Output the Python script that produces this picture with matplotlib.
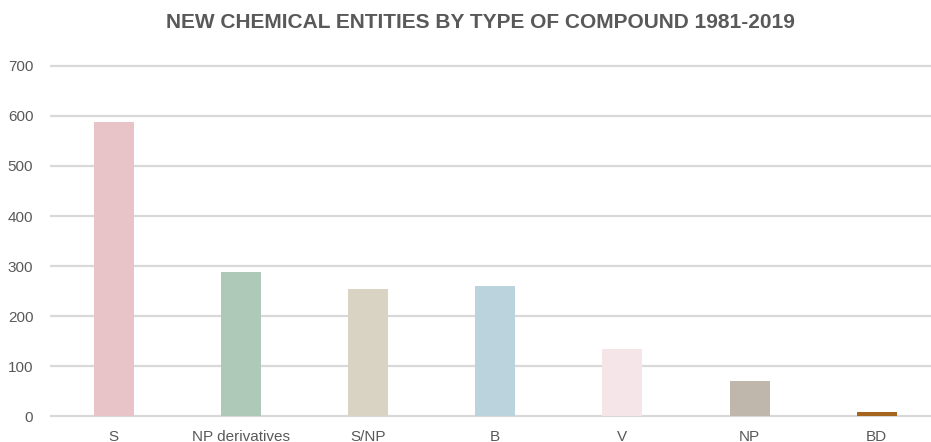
import matplotlib
matplotlib.use("Agg")
import matplotlib.pyplot as plt

plt.rcParams['font.family'] = ['Liberation Sans', 'DejaVu Sans']

# compound types and NCE counts (1981-2019)
categories = ['S', 'NP derivatives', 'S/NP', 'B', 'V', 'NP', 'BD']
counts = [587, 288, 255, 261, 135, 71, 8]
colors = ['#E8C3C7', '#AEC9B7', '#D8D3C3', '#BBD3DC', '#F5E4E8', '#BFB7AC', '#A5651E']
yticks = [0, 100, 200, 300, 400, 500, 600, 700]

W, H = 931, 442
fig = plt.figure(figsize=(W / 100, H / 100), dpi=100)

# axes placed in pixel coordinates
left, right = 50, 931
slot = 127.2
bottom, top = 442 - 418.5, 442 - 63.7
ax = fig.add_axes([left / W, bottom / H, (right - left) / W, (top - bottom) / H])

ax.bar(range(len(categories)), counts, width=0.315, color=colors, zorder=3)

ax.set_xlim(-0.5, -0.5 + (right - left) / slot)
ax.set_ylim(-4, 704)
ax.set_yticks(yticks)
ax.set_xticks(range(len(categories)))
ax.set_xticklabels(categories)

ax.grid(axis='y', color='#D9D9D9', linewidth=1.6, zorder=0)
ax.grid(axis='x', visible=False)
for s in ax.spines.values():
    s.set_visible(False)
ax.tick_params(axis='both', length=0, labelsize=11, colors='#595959')
ax.tick_params(axis='y', pad=12)
ax.tick_params(axis='x', pad=8)

fig.text(480 / W, 1 - 23 / H, 'NEW CHEMICAL ENTITIES BY TYPE OF COMPOUND 1981-2019',
         ha='center', va='center', fontsize=15, fontweight='bold', color='#595959')

fig.savefig('out.png', dpi=100)
